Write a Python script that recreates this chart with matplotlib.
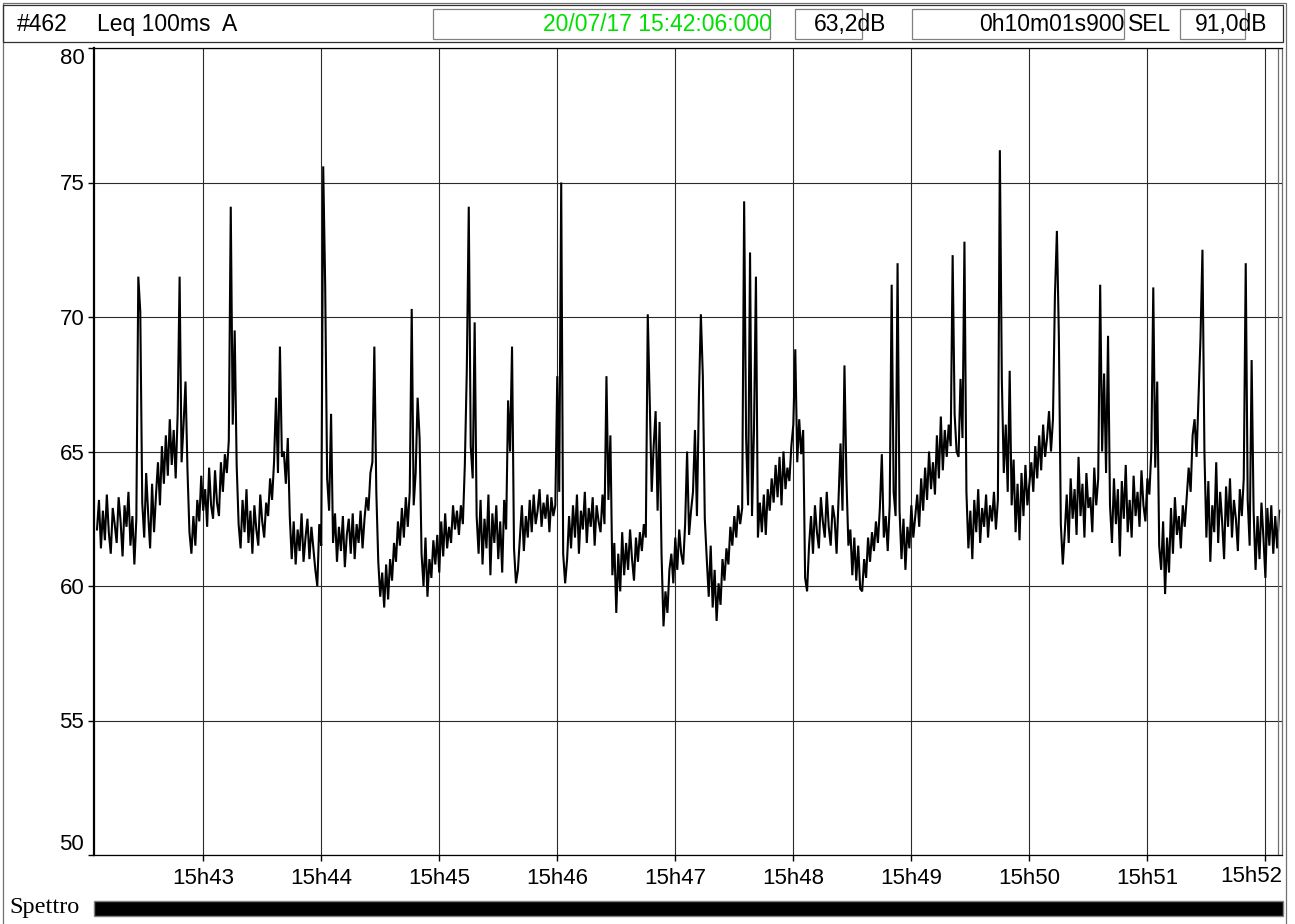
import numpy as np
import matplotlib.pyplot as plt
from matplotlib.patches import Rectangle

plt.rcParams['font.family'] = ['Liberation Sans', 'DejaVu Sans']

# Leq 100ms A level, one reading per second (dB)
leq_db = [
    62.1, 63.2, 61.4, 62.8, 61.7, 63.4, 62.0, 61.2, 62.9, 62.3,
    61.6, 63.3, 62.4, 61.1, 63.0, 62.2, 63.5, 61.5, 62.6, 60.8,
    62.5, 71.5, 70.2, 63.1, 61.8, 64.2, 62.7, 61.4, 63.8, 62.0,
    63.4, 64.6, 63.0, 65.2, 63.8, 65.6, 64.1, 66.2, 64.5, 65.8,
    64.0, 66.4, 71.5, 64.6, 66.0, 67.6, 64.3, 62.0, 61.2, 62.6,
    61.5, 63.2, 62.4, 64.1, 62.8, 63.6, 62.2, 64.4, 63.0, 62.5,
    64.3, 63.1, 62.6, 64.6, 63.5, 64.9, 64.2, 65.4, 74.1, 66.0,
    69.5, 64.5, 62.3, 61.4, 63.2, 62.0, 63.6, 61.6, 62.8, 61.2,
    63.0, 62.1, 61.5, 63.4, 62.4, 61.8, 63.1, 62.6, 64.0, 63.2,
    64.6, 67.0, 64.2, 68.9, 64.8, 65.0, 63.8, 65.5, 62.6, 61.0,
    62.4, 60.8, 62.1, 61.3, 62.7, 60.9, 61.8, 62.5, 61.0, 62.2,
    61.4, 60.6, 60.0, 62.3, 61.5, 75.6, 71.2, 64.0, 62.8, 66.4,
    61.6, 62.7, 60.9, 62.2, 61.3, 62.6, 60.7, 61.9, 62.5, 61.2,
    62.7, 61.0, 62.3, 61.6, 62.8, 61.4, 62.5, 63.3, 62.8, 64.2,
    64.6, 68.9, 63.5, 60.9, 59.6, 60.5, 59.2, 60.8, 59.5, 61.0,
    60.2, 61.6, 60.9, 62.4, 61.5, 62.9, 61.8, 63.3, 62.2, 63.5,
    70.3, 63.0, 64.2, 67.0, 65.5, 61.2, 60.0, 61.8, 59.6, 61.0,
    60.3, 61.7, 60.8, 61.9, 60.5, 62.4, 61.1, 62.7, 61.4, 62.2,
    61.6, 63.0, 62.1, 62.8, 61.9, 63.0, 62.3, 64.5, 68.0, 74.1,
    65.2, 64.0, 69.8, 62.6, 61.2, 63.2, 60.8, 62.5, 61.4, 63.4,
    60.4, 62.7, 61.6, 63.0, 61.0, 62.4, 60.5, 63.2, 62.1, 66.9,
    65.0, 68.9, 61.4, 60.1, 60.6, 61.8, 63.0, 61.3, 62.6, 61.8,
    63.2, 62.0, 63.4, 62.3, 62.8, 63.6, 62.2, 63.1, 62.5, 63.4,
    62.0, 63.3, 62.6, 63.0, 67.8, 63.5, 75.0, 61.2, 60.1, 61.0,
    62.6, 61.4, 63.0, 61.8, 63.4, 61.2, 62.8, 62.1, 63.5, 61.6,
    62.9, 62.2, 63.3, 61.5, 63.0, 62.4, 62.0, 63.4, 62.3, 67.8,
    63.2, 65.6, 60.4, 61.6, 59.0, 61.2, 59.8, 62.0, 60.4, 61.6,
    60.6, 62.1, 61.0, 60.2, 61.8, 60.9, 62.0, 61.3, 62.3, 61.8,
    70.1, 66.9, 63.5, 65.2, 66.5, 62.8, 66.1, 61.2, 58.5, 59.8,
    59.0, 60.6, 61.2, 60.1, 61.8, 60.6, 62.1, 61.2, 60.8, 62.3,
    65.0, 61.9, 62.8, 63.5, 65.8, 62.6, 67.0, 70.1, 67.8, 62.5,
    61.0, 59.6, 61.5, 59.2, 60.6, 58.7, 60.1, 59.3, 61.0, 60.2,
    61.4, 60.8, 62.2, 61.5, 62.6, 61.8, 63.0, 62.3, 62.9, 74.3,
    65.5, 63.0, 72.4, 62.6, 65.8, 71.5, 61.8, 63.1, 62.0, 63.4,
    61.9, 63.6, 62.8, 64.0, 63.1, 64.5, 63.3, 64.8, 63.0, 65.0,
    63.6, 64.4, 63.9, 65.2, 66.0, 68.8, 64.6, 66.2, 64.9, 65.8,
    60.3, 59.8, 61.5, 62.6, 61.2, 63.0, 62.0, 61.4, 63.3, 62.4,
    61.8, 63.5, 62.2, 61.5, 63.0, 62.5, 61.2, 63.2, 65.3, 62.8,
    68.2, 64.0, 61.5, 62.1, 60.4, 61.8, 60.2, 61.5, 59.9, 59.8,
    61.0, 60.3, 61.8, 60.9, 62.0, 61.3, 62.4, 61.6, 62.9, 64.9,
    61.8, 62.6, 61.3, 63.0, 71.2, 63.5, 62.6, 72.0, 62.8, 61.0,
    62.5, 60.6, 62.2, 61.4, 63.0, 61.8, 62.6, 63.4, 62.2, 64.0,
    62.8, 64.4, 63.2, 65.0, 63.6, 64.6, 63.4, 65.6, 64.0, 66.3,
    64.3, 65.8, 64.8, 66.0, 65.2, 72.3, 66.4, 65.0, 64.8, 67.7,
    65.5, 72.8, 63.5, 61.4, 62.8, 61.0, 63.2, 62.0, 63.6, 61.6,
    62.9, 62.2, 63.4, 61.8, 63.0, 62.4, 63.5, 62.1, 63.2, 76.2,
    67.7, 64.2, 66.0, 63.5, 68.0, 63.0, 64.7, 62.0, 63.8, 61.7,
    64.2, 62.6, 64.5, 63.0, 63.8, 64.6, 63.5, 65.2, 64.0, 65.6,
    64.3, 66.0, 64.8, 65.5, 66.5, 65.0, 66.2, 70.8, 73.2, 69.3,
    62.3, 60.8, 62.0, 63.4, 61.6, 64.0, 62.5, 63.6, 61.9, 64.8,
    62.6, 63.8, 61.8, 64.2, 62.9, 63.3, 62.0, 64.4, 63.0, 64.0,
    71.2, 65.0, 67.9, 64.2, 69.3, 63.0, 61.6, 64.0, 62.3, 63.6,
    61.1, 63.9, 62.5, 64.5, 62.0, 63.2, 61.8, 64.1, 62.6, 63.5,
    62.2, 64.3, 63.0, 62.4, 64.0, 63.4, 65.0, 71.1, 64.4, 67.6,
    61.5, 60.6, 62.4, 59.7, 61.8, 60.5, 62.9, 61.2, 63.3, 61.9,
    62.6, 61.4, 63.0, 62.2, 63.3, 64.4, 63.5, 65.6, 66.2, 64.8,
    67.0, 69.2, 72.5, 65.0, 61.8, 63.9, 60.9, 63.0, 62.0, 64.6,
    61.6, 63.5, 62.4, 61.0, 63.7, 62.2, 64.0, 61.8, 63.2, 62.5,
    61.3, 63.6, 62.6, 64.0, 72.0, 63.2, 61.5, 68.4, 62.8, 60.6,
    62.6, 61.0, 63.1, 61.8, 60.3, 62.9, 61.5, 63.0, 61.2, 62.6,
    61.4, 62.8,
]

start_s = 15 * 3600 + 42 * 60 + 6   # 20/07/17 15:42:06
duration_s = 601.9                  # 0h10m01s900
tick_minutes = [43, 44, 45, 46, 47, 48, 49, 50, 51, 52]
y_ticks = [50, 55, 60, 65, 70, 75, 80]

header_id = '#462'
header_mode = 'Leq 100ms  A'
header_date = '20/07/17 15:42:06:000'
header_level = '63,2dB'
header_dur = '0h10m01s900'
header_sel = '91,0dB'

W, H = 1295, 924
fig = plt.figure(figsize=(W / 100, H / 100), dpi=100)
fig.patch.set_facecolor('white')

# plot box in pixels
L, R, T, B = 94, 1282, 48, 855
px_per_s = 1.967
x0 = -(97 - L) / px_per_s
x1 = x0 + (R - L) / px_per_s

ax = fig.add_axes([L / W, 1 - B / H, (R - L) / W, (B - T) / H])
t = np.arange(len(leq_db)) * 1.0
ax.plot(t, leq_db, color='black', lw=1.5, solid_joinstyle='miter')

ax.set_xlim(x0, x1)
ax.set_ylim(50, 80)

xt = [15 * 3600 + m * 60 - start_s for m in tick_minutes]
ax.set_xticks(xt)
xlabels = ['15h%d' % m for m in tick_minutes]
ax.set_xticklabels(xlabels[:-1] + [''])
ax.set_yticks(y_ticks)
ax.set_yticklabels([str(v) for v in y_ticks])
ylabs = ax.get_yticklabels()
ylabs[0].set_va('bottom')
ylabs[-1].set_va('top')

ax.tick_params(axis='both', direction='out', length=4, width=1, color='black',
               labelsize=16, pad=3)
ax.tick_params(axis='x', pad=5)
ax.grid(True, color='#2a2a2a', lw=0.8)
ax.set_axisbelow(True)

for side in ['top', 'bottom']:
    ax.spines[side].set_color('black')
    ax.spines[side].set_linewidth(0.9)
ax.spines['left'].set_color('black')
ax.spines['left'].set_linewidth(1.6)
ax.spines['right'].set_color('#707070')
ax.spines['right'].set_linewidth(0.9)
ax.axvline(duration_s - 1.5, color='#707070', lw=0.9)

# overlay in pixel coordinates for the frame, header and bottom bar
ov = fig.add_axes([0, 0, 1, 1])
ov.set_xlim(0, W)
ov.set_ylim(H, 0)
ov.axis('off')
ov.patch.set_alpha(0)

ov.add_patch(Rectangle((3, 3), 1283, 930, fill=False, ec='#707070', lw=0.9))
ov.add_patch(Rectangle((3, 5), 1280, 37, fill=False, ec='#303030', lw=0.9))

box_ec = '#808080'
ov.add_patch(Rectangle((433, 9), 337, 30, fill=False, ec=box_ec, lw=0.9))
ov.add_patch(Rectangle((795, 9), 67, 30, fill=False, ec=box_ec, lw=0.9))
ov.add_patch(Rectangle((912, 9), 212, 30, fill=False, ec=box_ec, lw=0.9))
ov.add_patch(Rectangle((1180, 9), 65, 30, fill=False, ec=box_ec, lw=0.9))

hy = 24.5
hfs = 16.5
ov.text(17, hy, header_id, fontsize=hfs, va='center', ha='left')
ov.text(97, hy, header_mode, fontsize=hfs, va='center', ha='left')
ov.text(772, hy, header_date, fontsize=hfs, va='center', ha='right', color='#00e000')
ov.text(814, hy, header_level, fontsize=hfs, va='center', ha='left')
ov.text(1124, hy, header_dur, fontsize=hfs, va='center', ha='right')
ov.text(1128, hy, 'SEL', fontsize=hfs, va='center', ha='left')
ov.text(1195, hy, header_sel, fontsize=hfs, va='center', ha='left')

# last time label is pushed left to stay inside the frame
ov.text(R, 866, xlabels[-1], fontsize=16, va='top', ha='right')

ov.text(9, 908, 'Spettro', fontsize=17.5, va='center', ha='left',
        family=['Liberation Serif', 'DejaVu Serif'])
ov.add_patch(Rectangle((94, 901), 1189, 15, fc='black', ec='#808080', lw=1))

fig.savefig('out.png', dpi=100)
